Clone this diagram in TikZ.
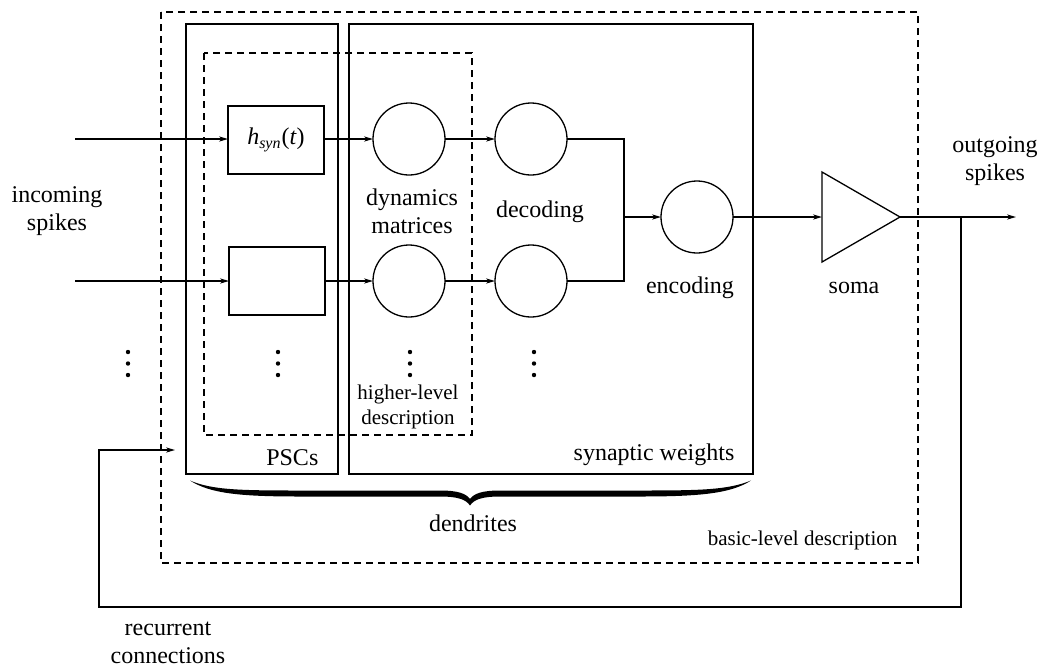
\documentclass[tikz,border=0pt]{standalone}
\usepackage{fontspec}
\setmainfont{Liberation Serif}
\usetikzlibrary{arrows.meta,shapes.geometric}
\begin{document}
\begin{tikzpicture}[x=0.5pt,y=-0.5pt,
  line width=0.65pt,
  lbl/.style={align=center,inner sep=0pt,font=\fontsize{12}{14}\selectfont},
  sml/.style={align=center,inner sep=0pt,font=\fontsize{10.5}{12.5}\selectfont},
  pscbox/.style={draw,minimum width=48pt,minimum height=34pt,inner sep=0pt,outer sep=0pt},
  unit/.style={draw,circle,minimum size=36pt,inner sep=0pt,outer sep=0pt},
  frame/.style={draw},
  level/.style={draw,dashed,dash pattern=on 3.5pt off 2.5pt},
  arr/.style={-{Stealth[length=4.5pt,width=2.6pt]}},
  vdot/.style={circle,fill,inner sep=0pt,minimum size=2.2pt}
]
\useasboundingbox (0,0) rectangle (1041,666);

% frames
\draw[level] (161,12) rectangle (918,563);
\draw[frame] (186,24) rectangle (338,474);
\draw[frame] (349,24) rectangle (753,474);
\draw[level] (204,53) rectangle (472,435);

% nodes
\node[pscbox] (h1) at (276,140) {\fontsize{12}{14}\selectfont\textit{h}\textsubscript{\textit{syn}}(\textit{t})};
\node[pscbox] (h2) at (277,281) {};
\node[unit] (d1) at (409,139) {};
\node[unit] (d2) at (409,281) {};
\node[unit] (c1) at (531,139) {};
\node[unit] (c2) at (531,281) {};
\node[unit] (enc) at (697,217) {};
\node[draw,isosceles triangle,isosceles triangle stretches,minimum width=45pt,minimum height=39pt,inner sep=0pt,outer sep=0pt,anchor=apex] (soma) at (900,217) {};

\coordinate (in1) at (75,139);
\coordinate (in2) at (75,281);
\coordinate (junc) at (624,217);
\coordinate (out) at (1016,217);
\coordinate (tap) at (961,217);
\coordinate (rc1) at (961,607);
\coordinate (rc2) at (99,607);
\coordinate (rc3) at (99,450);
\coordinate (rc4) at (175,450);

% connectors
\draw[arr] (in1) -- (h1.west |- in1);
\draw[arr] (in2) -- (h2.west);
\draw[arr] (h1.east |- d1) -- (d1.west);
\draw[arr] (h2.east) -- (d2.west);
\draw[arr] (d1.east) -- (c1.west);
\draw[arr] (d2.east) -- (c2.west);
\draw (c1.east) -| (junc);
\draw (c2.east) -| (junc);
\draw[arr] (junc) -- (enc.west);
\draw[arr] (enc.east) -- (soma.west |- enc.east);
\draw[arr] (soma.apex) -- (out);
\draw[arr] (tap) -- (rc1) -- (rc2) -- (rc3) -- (rc4);

% dots
\foreach \x/\n in {128/a,278/b,410/c,534/d}{
  \node[vdot] (dt\n1) at (\x,352) {};
  \node[vdot] (dt\n2) at (\x,363.5) {};
  \node[vdot] (dt\n3) at (\x,375) {};
}

% calligraphic brace (filled)
\fill (190,480.5) .. controls (210,493.5) and (240,496.5) .. (300,496.5)
  -- (440,496.5) .. controls (458,496.5) and (466,499.5) .. (470,505.5)
  .. controls (474,499.5) and (482,496.5) .. (500,496.5)
  -- (640,496.5) .. controls (700,496.5) and (731,493.5) .. (751,480.5)
  .. controls (728,490) and (700,490.5) .. (640,490.5)
  -- (500,490.5) .. controls (482,490.5) and (474,493.5) .. (470,499)
  .. controls (466,493.5) and (458,490.5) .. (440,490.5)
  -- (300,490.5) .. controls (240,490.5) and (212,490) .. (190,480.5) -- cycle;

% labels
\node[lbl] (tin) at (57,211) {incoming\\spikes};
\node[lbl] (tdyn) at (412,211) {dynamics\\matrices};
\node[lbl] (tdec) at (540,212) {decoding};
\node[lbl] (tenc) at (690,288) {encoding};
\node[lbl] (tsoma) at (854,288) {soma};
\node[lbl] (tout) at (995,161) {outgoing\\spikes};
\node[sml] (thl) at (408,407) {higher-level\\description};
\node[lbl,anchor=east] (tpsc) at (319,458) {PSCs};
\node[lbl,anchor=east] (tsw) at (735,455) {synaptic weights};
\node[lbl] (tden) at (473,523) {dendrites};
\node[sml,anchor=east] (tbl) at (898,540) {basic-level description};
\node[lbl] (trec) at (168,643) {recurrent\\connections};
\end{tikzpicture}
\end{document}
